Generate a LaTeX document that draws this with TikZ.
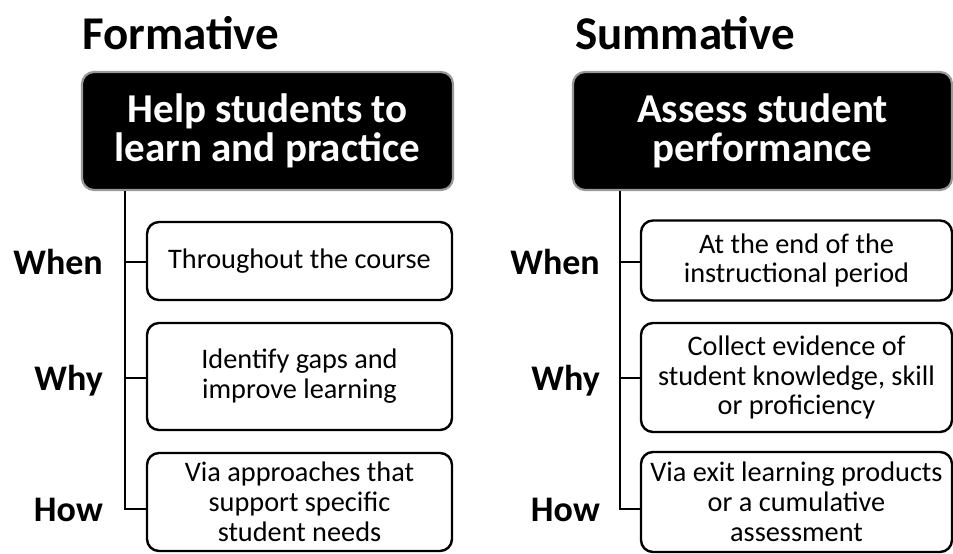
\documentclass[tikz,border=0pt]{standalone}
\usepackage{fontspec}
\setmainfont{Carlito}

\begin{document}
\begin{tikzpicture}[x=1pt,y=-1pt,
    heading/.style={font=\titlefontsize\bfseries,anchor=base west,inner sep=0},
    topbox/.style={draw=black!40,line width=2.2pt,fill=black,text=white,rounded corners=12pt,
        align=center,font=\topfontsize\bfseries,inner sep=0},
    itembox/.style={draw,line width=2.4pt,rounded corners=12pt,align=center,
        font=\itemfontsize,inner sep=0},
    sidelabel/.style={font=\labelfontsize\bfseries,anchor=base east,inner sep=0},
    spine/.style={line width=2.4pt}]
    \pgfmathsetmacro{\leftspine}{125}
    \pgfmathsetmacro{\rightspine}{620}
    \pgfmathsetmacro{\whenrow}{262}
    \pgfmathsetmacro{\whyrow}{378}
    \pgfmathsetmacro{\howrow}{509}
    \pgfmathsetmacro{\labelraise}{12}
    \providecommand{\titlefontsize}{\fontsize{47}{50}\selectfont}
    \providecommand{\topfontsize}{\fontsize{41}{39}\selectfont}
    \providecommand{\itemfontsize}{\fontsize{28.3}{29.8}\selectfont}
    \providecommand{\labelfontsize}{\fontsize{36}{40}\selectfont}
    \useasboundingbox (0,0) rectangle (953,554);
    % Formative column
    \node[heading] (formtitle) at (82,49) {Formative};
    \node[topbox,minimum width=371pt,minimum height=118pt] (formtop) at (267.5,131) {Help students to\\learn and practice};
    \node[itembox,minimum width=305pt,minimum height=78pt] (formwhen) at (299.5,261) {Throughout the course};
    \node[itembox,minimum width=305pt,minimum height=107pt] (formwhy) at (299.5,376.5) {Identify gaps and\\improve learning};
    \node[itembox,minimum width=305pt,minimum height=98pt] (formhow) at (299.5,502) {Via approaches that\\support specific\\student needs};
    \node[sidelabel] (formwhenlbl) at (103,\whenrow+\labelraise) {When};
    \node[sidelabel] (formwhylbl) at (103,\whyrow+\labelraise) {Why};
    \node[sidelabel] (formhowlbl) at (103,\howrow+\labelraise) {How};
    \coordinate (formroot) at (formtop.south -| \leftspine,0);
    \coordinate (formwhenjoin) at (\leftspine,\whenrow);
    \coordinate (formwhyjoin) at (\leftspine,\whyrow);
    \coordinate (formhowjoin) at (\leftspine,\howrow);
    \draw[spine] (formroot) -- (formhowjoin) -- (formhowjoin -| formhow.west);
    \draw[spine] (formwhenjoin) -- (formwhenjoin -| formwhen.west);
    \draw[spine] (formwhyjoin) -- (formwhyjoin -| formwhy.west);
    % Summative column
    \node[heading] (sumtitle) at (575,49) {Summative};
    \node[topbox,minimum width=379pt,minimum height=118pt] (sumtop) at (762.5,131) {Assess student\\performance};
    \node[itembox,minimum width=311pt,minimum height=80pt] (sumwhen) at (796.5,260.5) {At the end of the\\instructional period};
    \node[itembox,minimum width=311pt,minimum height=109pt] (sumwhy) at (796.5,377.5) {Collect evidence of\\student knowledge, skill\\or proficiency};
    \node[itembox,minimum width=311pt,minimum height=100pt] (sumhow) at (796.5,502) {Via exit learning products\\or a cumulative\\assessment};
    \node[sidelabel] (sumwhenlbl) at (600,\whenrow+\labelraise) {When};
    \node[sidelabel] (sumwhylbl) at (600,\whyrow+\labelraise) {Why};
    \node[sidelabel] (sumhowlbl) at (600,\howrow+\labelraise) {How};
    \coordinate (sumroot) at (sumtop.south -| \rightspine,0);
    \coordinate (sumwhenjoin) at (\rightspine,\whenrow);
    \coordinate (sumwhyjoin) at (\rightspine,\whyrow);
    \coordinate (sumhowjoin) at (\rightspine,\howrow);
    \draw[spine] (sumroot) -- (sumhowjoin) -- (sumhowjoin -| sumhow.west);
    \draw[spine] (sumwhenjoin) -- (sumwhenjoin -| sumwhen.west);
    \draw[spine] (sumwhyjoin) -- (sumwhyjoin -| sumwhy.west);
\end{tikzpicture}
\end{document}
